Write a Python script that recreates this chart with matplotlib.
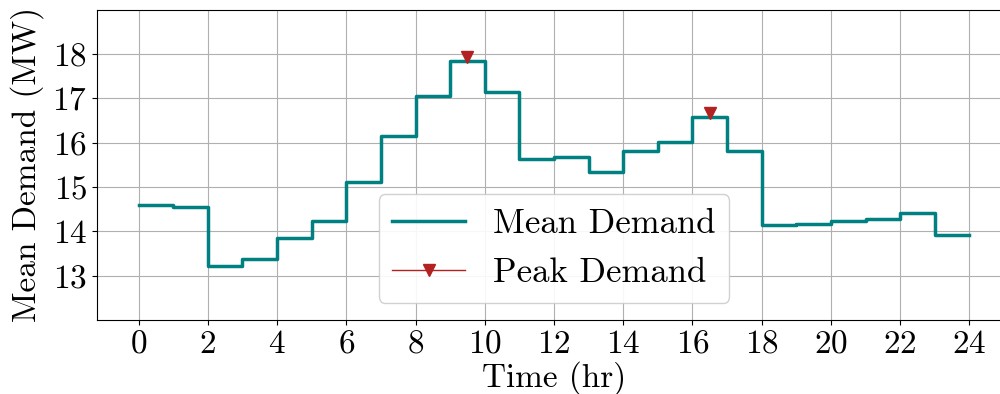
import matplotlib
matplotlib.use("Agg")
import matplotlib.pyplot as plt
from matplotlib.lines import Line2D
import numpy as np

plt.rcParams['font.family'] = 'serif'
plt.rcParams['font.serif'] = ['cmr10']
plt.rcParams['mathtext.fontset'] = 'cm'
plt.rcParams['axes.formatter.use_mathtext'] = True

hours = list(range(25))
mean_demand = [14.59, 14.55, 13.21, 13.37, 13.84, 14.23, 15.12, 16.15, 17.06, 17.84,
               17.14, 15.63, 15.67, 15.35, 15.82, 16.02, 16.58, 15.82, 14.15, 14.16,
               14.24, 14.28, 14.42, 13.92]
peak_x = [9.5, 16.5]
peak_y = [17.94, 16.68]
xticks = list(range(0, 25, 2))
yticks = [13, 14, 15, 16, 17, 18]

fig = plt.figure(figsize=(10, 3.94), dpi=100)
ax = fig.add_axes([0.097, 0.188, 0.914, 0.787])

ax.step(hours, mean_demand + [mean_demand[-1]], where='post', color='#008080', lw=2.5)
ax.plot(peak_x, peak_y, linestyle='none', marker='v', color='firebrick', markersize=9)

ax.set_xlim(-1.2, 25.2)
ax.set_ylim(12, 19)
ax.set_xticks(xticks)
ax.set_yticks(yticks)
ax.tick_params(labelsize=24)
ax.grid(True, color='#b0b0b0', lw=0.8)
ax.set_axisbelow(True)
ax.set_xlabel('Time (hr)', fontsize=24, labelpad=2)
ax.set_ylabel('Mean Demand (MW)', fontsize=24, labelpad=6)

handles = [Line2D([], [], color='#008080', lw=2.5),
           Line2D([], [], color='firebrick', lw=1, marker='v', markersize=9)]
ax.legend(handles, ['Mean Demand', 'Peak Demand'], fontsize=25, handlelength=2.1,
          loc='lower center', bbox_to_anchor=(0.5, 0.0), framealpha=0.9,
          borderaxespad=0.5)

fig.savefig('out.png', dpi=100)
